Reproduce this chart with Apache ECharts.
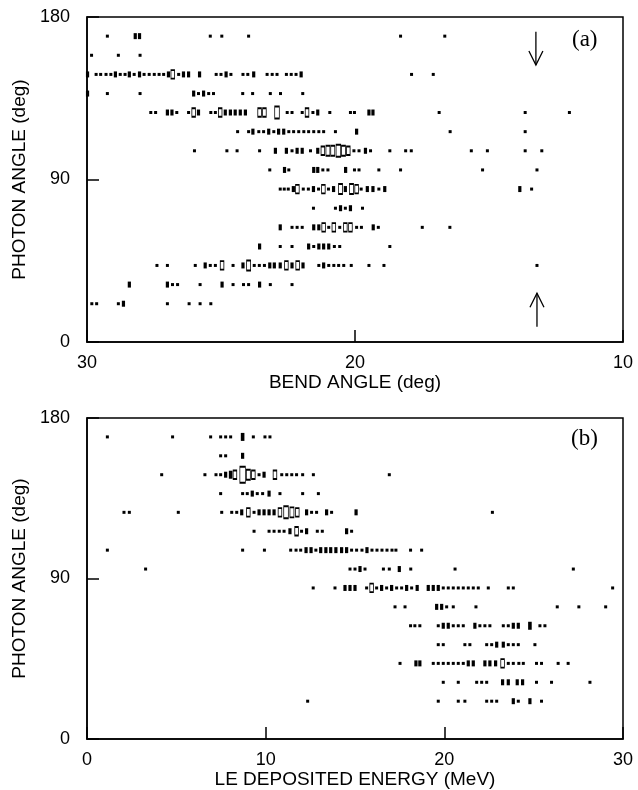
<!DOCTYPE html>
<html>
<head>
<meta charset="utf-8">
<script src="https://cdn.jsdelivr.net/npm/echarts@6/dist/echarts.min.js"></script>
<style>
html,body{margin:0;padding:0;background:#fff;}
#chart{width:638px;height:790px;}
</style>
</head>
<body>
<div id="chart"></div>
<script>
// ---------- DATA ----------
// photon-angle bin centres (deg)
const photonBins = [21.2, 31.8, 42.4, 52.9, 63.5, 74.1, 84.7, 95.3, 105.9, 116.5, 127.1, 137.6, 148.2, 158.8, 169.4];

// Panel (a): [bend angle (deg), count] per photon-angle row
const a169 = [[29.24,1],[28.20,2],[28.04,2],[25.40,1],[24.97,1],[23.97,1],[18.30,1],[16.65,1]];
const a159 = [[29.83,1],[28.83,1],[28.02,1]];
const a148 = [[29.98,2],[29.66,1],[29.49,1],[29.29,1],[29.11,1],[28.94,2],[28.76,1],[28.58,1],[28.42,2],[28.24,1],[28.04,2],[27.87,1],[27.68,1],[27.49,1],[27.31,1],[27.14,1],[26.96,2],[26.80,4],[26.58,1],[26.40,2],[26.21,2],[25.80,2],[25.18,1],[25.00,1],[24.81,2],[24.63,1],[24.18,1],[24.00,1],[23.78,2],[23.28,1],[23.09,1],[22.91,1],[22.56,1],[22.38,1],[22.20,1],[22.01,2],[17.89,1],[17.08,1]];
const a138 = [[29.98,2],[29.24,1],[28.02,1],[26.02,2],[25.84,1],[25.65,2],[25.46,1],[25.28,1],[24.19,1],[23.82,1],[23.16,1],[22.78,1],[21.95,1]];
const a127 = [[27.62,1],[27.44,1],[27.00,2],[26.83,2],[26.65,1],[26.21,1],[26.02,4],[25.84,2],[25.38,1],[25.21,1],[25.03,4],[24.84,2],[24.65,2],[24.47,2],[24.28,2],[24.09,2],[23.56,4],[23.38,4],[22.91,6],[22.53,1],[22.35,1],[21.97,1],[21.79,4],[21.57,1],[21.39,2],[20.94,1],[20.17,1],[20.02,1],[19.48,2],[19.33,2],[16.86,1],[13.65,1],[12.00,1]];
const a117 = [[24.38,1],[23.97,1],[23.81,2],[23.59,1],[23.41,1],[23.22,2],[23.03,1],[22.85,2],[22.66,2],[22.47,1],[22.29,1],[22.10,1],[21.91,1],[21.73,1],[21.54,1],[21.35,1],[21.17,1],[20.73,1],[19.94,2],[16.45,1],[13.65,1]];
const a106 = [[25.99,1],[24.78,1],[24.40,1],[23.56,1],[22.97,2],[22.56,2],[22.35,1],[22.16,2],[21.97,2],[21.66,1],[21.39,2],[21.20,4],[21.01,5],[20.83,5],[20.62,6],[20.43,5],[20.25,4],[20.04,1],[19.85,1],[19.61,2],[19.42,1],[18.70,1],[18.11,1],[17.90,1],[15.66,1],[15.06,1],[13.65,1],[13.03,1]];
const a95  = [[23.18,1],[22.63,2],[22.47,1],[21.54,2],[21.39,2],[21.20,1],[21.01,1],[20.35,2],[20.02,1],[19.85,1],[19.11,1],[18.30,1],[15.24,1],[13.21,1]];
const a85  = [[22.79,1],[22.64,1],[22.49,1],[22.30,2],[22.15,4],[21.93,1],[21.74,1],[21.55,2],[21.36,1],[21.18,4],[20.99,1],[20.80,2],[20.54,5],[20.36,2],[20.13,5],[19.94,4],[19.77,1],[19.54,2],[19.33,2],[19.11,1],[18.89,2],[13.85,2],[13.41,1]];
const a74  = [[21.55,1],[20.73,1],[20.54,2],[20.36,1],[20.17,2],[19.72,1]];
const a64  = [[22.79,2],[22.35,1],[22.16,1],[21.97,1],[21.54,2],[21.35,2],[21.17,4],[20.98,1],[20.79,4],[20.57,1],[20.36,4],[20.17,4],[19.94,1],[19.76,1],[19.32,2],[19.13,1],[17.49,1],[16.46,1]];
const a53  = [[23.56,2],[22.79,1],[22.35,1],[21.73,2],[21.54,1],[21.35,2],[21.17,2],[20.98,2],[20.77,1],[20.57,1],[18.70,1]];
const a42  = [[27.39,1],[27.00,1],[25.96,1],[25.59,2],[25.40,1],[25.21,1],[24.96,4],[24.55,1],[24.18,2],[23.97,5],[23.76,1],[23.57,1],[23.38,1],[23.18,2],[23.01,2],[22.79,2],[22.56,4],[22.35,2],[22.14,4],[21.94,2],[21.35,1],[21.17,2],[20.98,1],[20.79,1],[20.61,1],[20.42,1],[20.14,1],[19.48,1],[18.92,1],[13.21,1]];
const a32  = [[28.42,2],[27.00,2],[26.81,1],[26.62,1],[25.78,1],[24.96,2],[24.55,1],[24.16,1],[23.97,1],[23.56,2],[23.16,1],[22.35,1]];
const a21  = [[29.82,1],[29.64,1],[28.83,1],[28.64,2],[27.00,1],[26.19,1],[25.78,1],[25.38,1]];
const rowsA = [a21, a32, a42, a53, a64, a74, a85, a95, a106, a117, a127, a138, a148, a159, a169];

// Panel (b): [LE deposited energy (MeV), count] per photon-angle row
const b169 = [[1.14,1],[4.79,1],[6.92,1],[7.48,1],[7.76,1],[8.04,1],[8.71,3],[9.31,1],[9.96,1],[10.24,1]];
const b159 = [[7.48,1],[7.76,1],[8.71,2]];
const b148 = [[4.18,1],[6.60,1],[7.22,1],[7.48,1],[7.76,2],[8.04,3],[8.28,4],[8.71,8],[9.03,5],[9.31,4],[9.63,1],[9.91,2],[10.52,4],[10.90,1],[11.18,1],[11.46,1],[11.73,1],[12.07,1],[12.67,1],[16.92,1]];
const b138 = [[7.48,1],[8.71,1],[8.97,1],[9.25,2],[9.53,1],[9.83,1],[10.19,2],[10.80,1],[12.07,1],[12.95,1]];
const b127 = [[2.07,1],[2.37,1],[5.11,1],[7.54,1],[8.10,1],[8.38,1],[8.66,2],[9.03,4],[9.35,1],[9.63,2],[9.91,2],[10.19,2],[10.47,2],[10.80,4],[11.14,6],[11.47,5],[11.77,4],[12.29,2],[12.57,1],[12.85,1],[13.41,2],[13.69,1],[15.06,2],[22.69,1]];
const b117 = [[9.35,1],[10.19,1],[10.47,1],[10.76,1],[11.03,1],[11.36,2],[11.73,4],[12.01,1],[12.29,2],[12.89,1],[13.17,1],[14.53,2],[14.81,1]];
const b106 = [[1.14,1],[8.71,1],[9.93,1],[11.40,1],[11.70,1],[11.96,1],[12.26,2],[12.54,2],[12.81,1],[13.08,2],[13.37,2],[13.64,2],[13.93,2],[14.25,2],[14.53,2],[14.81,1],[15.09,1],[15.39,1],[15.67,2],[15.95,1],[16.23,1],[16.51,1],[16.79,1],[17.07,1],[17.29,1],[18.11,1],[18.73,1]];
const b95  = [[3.28,1],[14.72,1],[15.00,1],[15.28,2],[15.56,1],[16.59,1],[16.92,1],[17.48,2],[18.12,1],[20.60,1],[27.22,1]];
const b85  = [[12.66,1],[13.88,1],[14.44,2],[14.72,2],[15.00,2],[15.65,1],[15.93,4],[16.21,1],[16.49,2],[16.77,1],[17.05,2],[17.33,1],[17.61,1],[17.89,2],[18.17,1],[18.48,2],[19.10,2],[19.38,2],[19.66,2],[19.94,1],[20.22,1],[20.50,1],[20.78,1],[21.06,1],[21.34,1],[21.62,1],[21.90,1],[22.46,1],[23.58,1],[23.86,1],[29.42,1]];
const b74  = [[17.24,1],[17.80,1],[19.57,2],[19.85,2],[20.13,1],[20.50,1],[21.77,1],[26.32,1],[27.53,1],[29.03,1]];
const b64  = [[18.11,1],[18.35,1],[18.63,1],[19.66,1],[19.94,2],[20.22,2],[20.50,1],[20.78,1],[21.06,1],[21.71,2],[21.99,1],[22.27,1],[22.55,1],[23.30,1],[23.58,1],[23.86,2],[24.14,2],[24.79,3],[25.35,1],[25.63,1]];
const b53  = [[19.66,1],[19.94,1],[21.15,1],[21.43,1],[22.37,1],[22.65,1],[22.93,2],[23.30,2],[23.58,1],[23.86,1],[24.14,1],[25.07,1]];
const b42  = [[17.52,1],[18.41,2],[18.63,2],[19.38,1],[19.66,1],[19.94,1],[20.22,1],[20.50,1],[20.78,1],[21.06,1],[21.34,2],[21.62,2],[22.27,2],[22.55,2],[22.87,2],[23.26,4],[23.58,1],[23.86,1],[24.17,1],[24.42,1],[25.16,1],[25.44,1],[26.37,1],[26.93,1]];
const b32  = [[19.94,1],[20.78,1],[21.81,1],[22.09,1],[22.37,1],[23.26,2],[23.58,2],[24.08,2],[24.38,2],[25.16,1],[26.00,1],[28.15,1]];
const b21  = [[12.35,1],[19.66,1],[20.78,1],[21.15,1],[22.37,1],[22.65,1],[22.93,1],[23.86,2],[24.14,1],[24.79,2],[25.44,1]];
const rowsB = [b21, b32, b42, b53, b64, b74, b85, b95, b106, b117, b127, b138, b148, b159, b169];

// arrows in panel (a): [bend angle, photon angle tail, photon angle tip]
const arrowsA = [[13.25, 171.9, 153.4], [13.21, 8.5, 27.0]];

// axis ticks
const ticksBend = [10, 20, 30];
const ticksEnergy = [0, 10, 20, 30];
const ticksPhoton = [0, 90, 180];

// ---------- BUILD ----------
function flatten(rows) {
  const out = [];
  rows.forEach((row, i) => row.forEach(p => out.push([p[0], photonBins[i], p[1]])));
  return out;
}
const ptsA = flatten(rowsA);
const ptsB = flatten(rowsB);
const SIZE = {1:[3,3], 2:[3.2,6], 3:[3.6,8], 4:[3.6,8.5], 5:[4,10], 6:[4.6,12], 8:[5.5,16]};
const symSize = v => SIZE[v[2]] || [3,3];

const FONT = 'Liberation Sans';
const black = '#000';

function makeX(grid, min, max, name) {
  return {
    gridIndex: grid, type: 'value', min: min, max: max, interval: 10,
    inverse: grid === 0,
    axisLine: {show: true, lineStyle: {color: black, width: 1.5}},
    axisTick: {show: true, inside: true, length: 12, lineStyle: {color: black, width: 1.5}},
    axisLabel: {color: black, fontFamily: FONT, fontSize: 18, margin: 12},
    splitLine: {show: false},
    name: name, nameLocation: 'middle', nameGap: 31,
    nameTextStyle: {color: black, fontFamily: FONT, fontSize: 19}
  };
}
function makeY(grid) {
  return {
    gridIndex: grid, type: 'value', min: ticksPhoton[0], max: ticksPhoton[2], interval: 90,
    axisLine: {show: true, lineStyle: {color: black, width: 1.5}},
    axisTick: {show: true, inside: true, length: 12, lineStyle: {color: black, width: 1.5}},
    axisLabel: {color: black, fontFamily: FONT, fontSize: 18, margin: 17},
    splitLine: {show: false},
    name: 'PHOTON ANGLE (deg)', nameLocation: 'middle', nameGap: 50, nameRotate: 90,
    nameTextStyle: {color: black, fontFamily: FONT, fontSize: 19}
  };
}
function scatter(idx, pts, open) {
  return {
    type: 'scatter', xAxisIndex: idx, yAxisIndex: idx,
    data: pts.filter(p => open ? p[2] >= 4 : p[2] < 4),
    symbol: 'rect', symbolSize: symSize, z: open ? 3 : 2,
    itemStyle: open ? {color: '#fff', borderColor: black, borderWidth: 1.2, opacity: 1}
                    : {color: black, opacity: 1},
    emphasis: {disabled: true}, silent: true, animation: false
  };
}

const chart = echarts.init(document.getElementById('chart'), null, {renderer: 'canvas'});
chart.setOption({
  animation: false,
  backgroundColor: '#fff',
  grid: [
    {left: 87, top: 17, width: 536, height: 325, show: true, borderColor: black, borderWidth: 1.5, backgroundColor: 'transparent'},
    {left: 87, top: 418, width: 536, height: 322, show: true, borderColor: black, borderWidth: 1.5, backgroundColor: 'transparent'}
  ],
  xAxis: [makeX(0, ticksBend[0], ticksBend[2], 'BEND ANGLE (deg)'), makeX(1, ticksEnergy[0], ticksEnergy[3], 'LE DEPOSITED ENERGY (MeV)')],
  yAxis: [makeY(0), makeY(1)],
  graphic: [
    {type: 'text', left: 572, top: 28, style: {text: '(a)', font: '23px "Liberation Serif"', fill: black}},
    {type: 'text', left: 571, top: 427, style: {text: '(b)', font: '23px "Liberation Serif"', fill: black}}
  ],
  series: [
    scatter(0, ptsA, false), scatter(0, ptsA, true),
    scatter(1, ptsB, false), scatter(1, ptsB, true),
    {
      type: 'custom', xAxisIndex: 0, yAxisIndex: 0, data: arrowsA, silent: true,
      renderItem: function (params, api) {
        const x = api.value(0);
        const p0 = api.coord([x, api.value(1)]);
        const p1 = api.coord([x, api.value(2)]);
        const dir = Math.sign(p1[1] - p0[1]);
        return {type: 'group', children: [
          {type: 'line', shape: {x1: p0[0], y1: p0[1], x2: p1[0], y2: p1[1]}, style: {stroke: black, lineWidth: 1.3}},
          {type: 'polyline', shape: {points: [[p1[0] - 7, p1[1] - dir * 14], [p1[0], p1[1]], [p1[0] + 7, p1[1] - dir * 14]]},
           style: {stroke: black, fill: null, lineWidth: 1.3}}
        ]};
      }
    }
  ]
});
</script>
</body>
</html>
